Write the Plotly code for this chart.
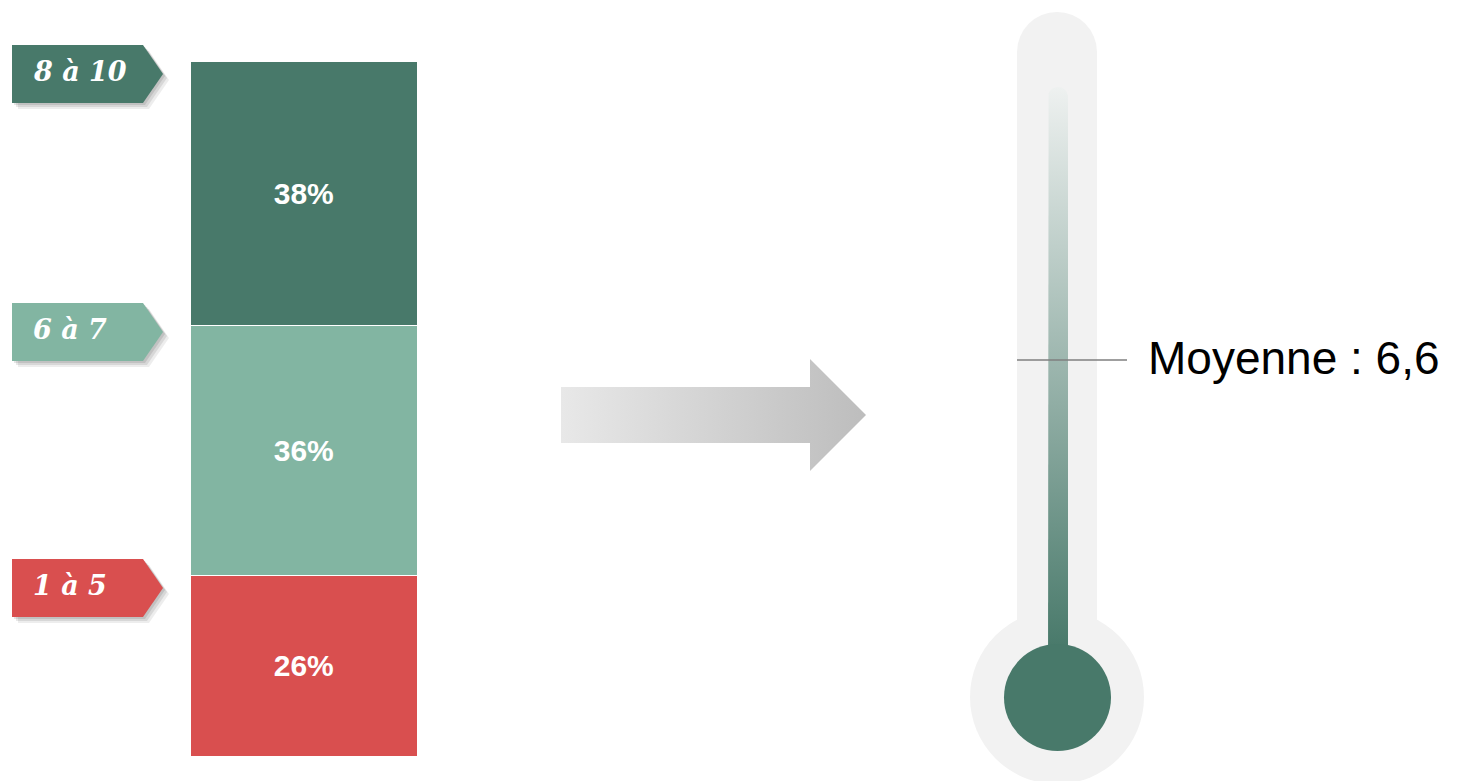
import math
import plotly.graph_objects as go

# ---------------- data ----------------
categories = ["1 à 5", "6 à 7", "8 à 10"]
shares = [26, 36, 38]
seg_colors = ["#D94F4F", "#82B5A2", "#48796A"]
mean_score = 6.6
mean_label = "Moyenne : 6,6"

# ---------------- layout constants (pixels) ----------------
W, H = 1457, 781
BAR_TOP, BAR_BOTTOM = 62, 757
TAG_TOPS = [559, 303, 45]          # top edge of each category tag
TAG_H = 58

fig = go.Figure()

# ---------------- stacked bar ----------------
for cat, val, col in zip(categories, shares, seg_colors):
    fig.add_trace(go.Bar(
        x=[""], y=[val], name=cat, width=1,
        marker=dict(color=col, line=dict(color="white", width=1.5)),
        texttemplate="<b>%{y}%</b>", textposition="inside",
        insidetextanchor="middle",
        textfont=dict(color="white", size=30, family="Arial, Liberation Sans"),
        hoverinfo="skip", xaxis="x", yaxis="y",
    ))

# ---------------- decorative arrow (pixel space x2/y2) ----------------
arrow_x = [561, 810, 810, 866, 810, 810, 561, 561]
arrow_y = [387, 387, 359, 415, 471, 443, 443, 387]
fig.add_trace(go.Scatter(
    x=arrow_x, y=arrow_y, mode="lines", fill="toself", line=dict(width=0),
    fillgradient=dict(type="horizontal", start=561, stop=866,
                      colorscale=[[0, "#E8E8E8"], [1, "#BDBDBD"]]),
    hoverinfo="skip", xaxis="x2", yaxis="y2", showlegend=False,
))

# ---------------- thermometer inner tube ----------------
tube_x, tube_y = [1048], [697]
cx, cy, r = 1058, 97, 10
for i in range(0, 181, 10):
    a = math.radians(180 - i)
    tube_x.append(cx + r * math.cos(a))
    tube_y.append(cy - r * math.sin(a))
tube_x += [1068, 1048]
tube_y += [697, 697]
fig.add_trace(go.Scatter(
    x=tube_x, y=tube_y, mode="lines", fill="toself", line=dict(width=0),
    fillgradient=dict(type="vertical", start=87, stop=650,
                      colorscale=[[0, "#EEF1F0"], [1, "#48796A"]]),
    hoverinfo="skip", xaxis="x2", yaxis="y2", showlegend=False,
))

# ---------------- mean marker on thermometer scale (x3/y3) ----------------
fig.add_trace(go.Scatter(
    x=[1017, 1127], y=[mean_score, mean_score], mode="lines",
    line=dict(color="#7F7F7F", width=1.5),
    hoverinfo="skip", xaxis="x3", yaxis="y3", showlegend=False,
))

shapes = []
# thermometer outer body
shapes.append(dict(type="circle", xref="x2", yref="y2", x0=970, x1=1144, y0=610, y1=784,
                   fillcolor="#F2F2F2", line=dict(width=0), layer="below"))
shapes.append(dict(type="rect", xref="x2", yref="y2", x0=1017, x1=1097, y0=52, y1=697,
                   fillcolor="#F2F2F2", line=dict(width=0), layer="below"))
shapes.append(dict(type="circle", xref="x2", yref="y2", x0=1017, x1=1097, y0=12, y1=92,
                   fillcolor="#F2F2F2", line=dict(width=0), layer="below"))
# bulb
shapes.append(dict(type="circle", xref="x2", yref="y2", x0=1004, x1=1111, y0=644, y1=751,
                   fillcolor="#48796A", line=dict(width=0), layer="above"))


def tag_path(top, dx=0, dy=0):
    bot = top + TAG_H
    mid = top + TAG_H / 2
    pts = [(12, top), (143, top), (163, mid), (143, bot), (12, bot)]
    return "M " + " L ".join("{},{}".format(x + dx, y + dy) for x, y in pts) + " Z"


annotations = []
for cat, col, top in zip(categories, seg_colors, TAG_TOPS):
    for dx, dy, op in [(2, 2, 0.10), (4, 4, 0.09), (6, 6, 0.07)]:
        shapes.append(dict(type="path", xref="x2", yref="y2",
                           path=tag_path(top, dx, dy), fillcolor="rgba(0,0,0,%s)" % op,
                           line=dict(width=0), layer="above"))
    shapes.append(dict(type="path", xref="x2", yref="y2", path=tag_path(top),
                       fillcolor=col, line=dict(width=0), layer="above"))
    annotations.append(dict(
        x=31, y=top + TAG_H / 2 - 3, xref="x2", yref="y2", xanchor="left", yanchor="middle",
        text=cat, showarrow=False,
        font=dict(family="DejaVu Serif", size=27, color="white", weight="bold", style="italic"),
    ))

annotations.append(dict(
    x=1146, y=mean_score, xref="x3", yref="y3", xanchor="left", yanchor="middle",
    yshift=2, text=mean_label, showarrow=False,
    font=dict(family="Arial, Liberation Sans", size=46, color="black"),
))

hidden = dict(visible=False, showgrid=False, zeroline=False, fixedrange=True)
fig.update_layout(
    width=W, height=H, autosize=False,
    margin=dict(l=0, r=0, t=0, b=0, pad=0),
    paper_bgcolor="white", plot_bgcolor="rgba(0,0,0,0)",
    barmode="stack", bargap=0, showlegend=False,
    xaxis=dict(domain=[191 / W, 418 / W], range=[-0.5, 0.5], anchor="y", **hidden),
    yaxis=dict(domain=[(H - BAR_BOTTOM) / H, (H - BAR_TOP) / H], range=[0, 100],
               anchor="x", **hidden),
    xaxis2=dict(domain=[0, 1], range=[0, W], anchor="y2", **hidden),
    yaxis2=dict(domain=[0, 1], range=[H, 0], anchor="x2", **hidden),
    xaxis3=dict(domain=[0, 1], range=[0, W], anchor="y3", **hidden),
    yaxis3=dict(domain=[0, 638 / H], range=[0, 10], anchor="x3", **hidden),
    shapes=shapes, annotations=annotations,
)

fig.write_html("out.html", config={"displayModeBar": False},
               post_script="document.body.style.margin='0';")
